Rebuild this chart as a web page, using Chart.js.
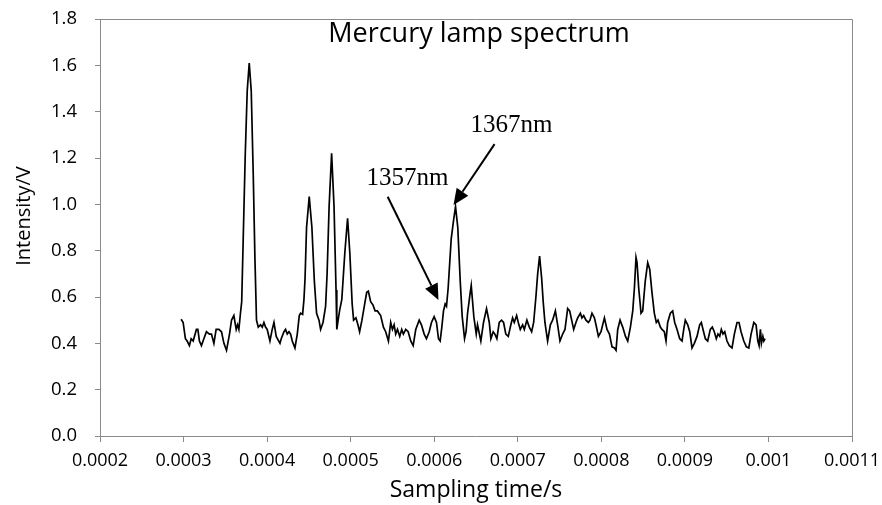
<!DOCTYPE html>
<html>
<head>
<meta charset="utf-8">
<script src="https://cdn.jsdelivr.net/npm/chart.js@4/dist/chart.umd.min.js"></script>
<style>
  html, body { margin: 0; padding: 0; background: #fff; }
  #wrap { width: 882px; height: 505px; }
</style>
</head>
<body>
<div id="wrap"><canvas id="c" width="882" height="505"></canvas></div>
<script>
// ---- data (time in microseconds, intensity in volts) ----
const timeUs = [
297.1,299.5,302.2,304.3,307.0,309.1,311.5,315.4,317.1,319.0,
321.4,324.3,327.4,331.0,333.4,336.3,339.0,342.3,345.4,348.3,
351.4,355.0,357.4,360.2,363.0,364.6,366.2,368.1,369.6,371.4,
373.8,376.2,378.6,381.0,383.4,385.4,387.3,389.4,392.1,394.2,
396.2,398.1,400.1,403.4,406.1,408.2,410.9,415.4,416.9,420.2,
422.1,424.1,426.2,428.1,430.1,433.3,436.1,438.5,440.1,442.5,
444.1,445.4,447.2,450.4,453.6,456.5,459.2,462.1,464.0,466.9,
470.0,471.8,474.2,477.2,480.1,482.5,483.4,484.6,486.7,489.4,
493.0,496.3,499.0,501.8,503.5,506.3,508.7,510.7,513.5,516.8,
519.2,521.2,523.9,526.8,529.2,532.0,535.9,539.2,541.9,545.2,
547.9,550.0,552.0,553.9,556.0,558.7,561.1,563.1,565.9,568.8,
571.9,574.8,577.9,582.0,584.7,588.0,590.7,594.0,596.7,599.9,
602.7,605.1,607.1,609.1,611.1,613.1,614.7,616.7,620.3,623.1,
625.5,628.2,631.1,633.5,636.3,638.1,639.9,643.1,644.3,647.4,
650.3,651.8,655.8,659.0,662.6,665.9,667.8,670.6,672.6,675.0,
677.8,680.6,683.0,685.7,688.6,691.7,693.8,695.8,698.6,700.6,
703.0,705.8,707.8,710.9,713.8,716.6,719.0,721.7,723.8,726.1,
728.6,730.4,732.5,735.7,739.0,741.7,745.0,747.7,750.5,753.7,
756.5,759.7,762.1,764.5,766.9,769.6,771.7,774.9,776.8,778.9,
781.6,784.5,786.4,788.8,791.7,793.6,796.5,799.6,803.7,806.8,
809.7,812.8,815.7,817.6,819.6,822.4,825.6,828.9,831.6,834.8,
837.6,839.6,841.5,842.7,844.7,847.5,849.5,852.6,855.5,857.9,
860.6,863.4,865.8,867.8,870.6,872.6,875.4,877.4,879.4,882.6,
885.4,887.8,890.6,893.8,896.6,898.6,900.5,903.4,905.8,908.5,
911.3,914.5,917.7,919.7,921.7,924.5,927.3,930.4,932.8,935.2,
937.6,939.6,941.7,943.6,945.6,947.7,950.4,953.2,956.4,959.2,
962.4,964.8,967.2,970.5,973.6,976.5,979.2,982.5,985.2,987.3,
988.8,990.4,991.6,993.3,994.5,996.0
];
const intensityV = [
0.504,0.49,0.42,0.41,0.39,0.42,0.41,0.46,0.46,0.41,
0.39,0.42,0.45,0.44,0.44,0.40,0.46,0.46,0.45,0.40,
0.37,0.44,0.50,0.52,0.46,0.48,0.46,0.53,0.58,0.85,
1.21,1.49,1.61,1.49,1.13,0.77,0.50,0.47,0.48,0.47,
0.49,0.47,0.46,0.41,0.46,0.49,0.43,0.40,0.42,0.45,
0.46,0.44,0.45,0.44,0.41,0.38,0.44,0.52,0.53,0.525,
0.59,0.68,0.90,1.033,0.90,0.67,0.53,0.50,0.46,0.49,
0.56,0.70,0.99,1.22,0.99,0.63,0.46,0.49,0.54,0.59,
0.79,0.94,0.79,0.57,0.50,0.51,0.48,0.45,0.50,0.57,
0.62,0.625,0.58,0.565,0.54,0.54,0.52,0.47,0.45,0.41,
0.49,0.46,0.48,0.44,0.46,0.43,0.46,0.44,0.46,0.45,
0.41,0.39,0.46,0.50,0.48,0.44,0.42,0.45,0.49,0.515,
0.49,0.42,0.41,0.47,0.54,0.57,0.56,0.64,0.85,0.93,
0.99,0.90,0.67,0.515,0.42,0.45,0.53,0.62,0.65,0.515,
0.44,0.48,0.41,0.49,0.55,0.49,0.42,0.45,0.44,0.42,
0.49,0.50,0.49,0.44,0.43,0.48,0.51,0.49,0.52,0.49,
0.46,0.48,0.46,0.50,0.47,0.45,0.49,0.60,0.70,0.777,
0.68,0.58,0.49,0.41,0.48,0.50,0.54,0.48,0.41,0.44,
0.46,0.55,0.54,0.50,0.46,0.49,0.51,0.53,0.51,0.52,
0.50,0.49,0.50,0.53,0.51,0.48,0.43,0.45,0.51,0.46,
0.44,0.385,0.38,0.37,0.46,0.50,0.47,0.43,0.41,0.47,
0.54,0.64,0.771,0.75,0.64,0.53,0.54,0.67,0.748,0.72,
0.62,0.53,0.49,0.50,0.47,0.46,0.45,0.41,0.49,0.53,
0.54,0.49,0.46,0.42,0.41,0.46,0.50,0.48,0.45,0.38,
0.40,0.43,0.48,0.49,0.46,0.42,0.41,0.46,0.47,0.45,
0.42,0.44,0.43,0.46,0.44,0.45,0.41,0.39,0.38,0.44,
0.49,0.49,0.45,0.41,0.385,0.38,0.44,0.49,0.48,0.41,
0.39,0.46,0.40,0.43,0.41,0.42
];
const xTickValues = [0.0002,0.0003,0.0004,0.0005,0.0006,0.0007,0.0008,0.0009,0.001,0.0011];
const xTickLabels = ['0.0002','0.0003','0.0004','0.0005','0.0006','0.0007','0.0008','0.0009','0.001','0.0011'];
const yTickValues = [0,0.2,0.4,0.6,0.8,1.0,1.2,1.4,1.6,1.8];
const yTickLabels = ['0.0','0.2','0.4','0.6','0.8','1.0','1.2','1.4','1.6','1.8'];

const chartTitle = 'Mercury lamp spectrum';
const xTitle = 'Sampling time/s';
const yTitle = 'Intensity/V';

// annotation labels with arrows (data coordinates: seconds, volts)
const noteLabels = ['1357nm', '1367nm'];
const noteTextAt = [[0.0005679, 1.083], [0.0006926, 1.312]];
const noteTail  = [[0.0005443, 1.033], [0.0006722, 1.26]];
const noteTip   = [[0.0006051, 0.587], [0.0006231, 0.997]];

// ---- build ----
const points = timeUs.map((t, i) => ({ x: t * 1e-6, y: intensityV[i] }));

const AXIS_GRAY = '#8a8a8a';

const overlay = {
  id: 'overlay',
  afterDraw(chart) {
    const { ctx, chartArea: a, scales: { x, y } } = chart;
    ctx.save();
    // plot area border (top / right)
    ctx.strokeStyle = AXIS_GRAY;
    ctx.lineWidth = 1;
    ctx.beginPath();
    ctx.moveTo(Math.round(a.left) + 0.5, Math.round(a.top) + 0.5);
    ctx.lineTo(Math.round(a.right) + 0.5, Math.round(a.top) + 0.5);
    ctx.lineTo(Math.round(a.right) + 0.5, Math.round(a.bottom) + 0.5);
    ctx.stroke();

    ctx.fillStyle = '#000';
    ctx.textAlign = 'center';
    ctx.textBaseline = 'alphabetic';

    // chart title inside plot area
    ctx.font = "27px 'Open Sans'";
    ctx.fillText(chartTitle, 479, a.top + 23);

    // y-axis title
    ctx.save();
    ctx.font = "20px 'Open Sans'";
    ctx.textBaseline = 'middle';
    ctx.translate(24, 216);
    ctx.rotate(-Math.PI / 2);
    ctx.fillText(yTitle, 0, 0);
    ctx.restore();

    // annotations
    ctx.font = "25px 'Liberation Serif'";
    noteLabels.forEach((lab, i) => {
      const tx = x.getPixelForValue(noteTextAt[i][0]);
      const ty = y.getPixelForValue(noteTextAt[i][1]);
      ctx.fillText(lab, tx, ty);
      const x0 = x.getPixelForValue(noteTail[i][0]);
      const y0 = y.getPixelForValue(noteTail[i][1]);
      const x1 = x.getPixelForValue(noteTip[i][0]);
      const y1 = y.getPixelForValue(noteTip[i][1]);
      const ang = Math.atan2(y1 - y0, x1 - x0);
      const L = 16, W = 7;
      const bx = x1 - L * Math.cos(ang), by = y1 - L * Math.sin(ang);
      ctx.strokeStyle = '#000';
      ctx.lineWidth = 2;
      ctx.beginPath();
      ctx.moveTo(x0, y0);
      ctx.lineTo(bx, by);
      ctx.stroke();
      ctx.beginPath();
      ctx.moveTo(x1, y1);
      ctx.lineTo(bx + W * Math.sin(ang), by - W * Math.cos(ang));
      ctx.lineTo(bx - W * Math.sin(ang), by + W * Math.cos(ang));
      ctx.closePath();
      ctx.fill();
    });
    ctx.restore();
  }
};

Chart.defaults.font.family = "'Open Sans'";
Chart.defaults.color = '#000';

new Chart(document.getElementById('c'), {
  type: 'line',
  data: {
    datasets: [{
      data: points,
      borderColor: '#000',
      borderWidth: 1.7,
      pointRadius: 0,
      tension: 0,
      fill: false
    }]
  },
  options: {
    responsive: false,
    animation: false,
    parsing: false,
    normalized: true,
    layout: { padding: { left: 0, right: 30, top: 19, bottom: 0 } },
    plugins: { legend: { display: false }, tooltip: { enabled: false } },
    scales: {
      x: {
        type: 'linear',
        min: 0.0002, max: 0.0011,
        afterBuildTicks: s => { s.ticks = xTickValues.map(v => ({ value: v })); },
        afterFit: s => { s.height = 69; s.paddingLeft = 0; s.paddingRight = 0; },
        border: { color: AXIS_GRAY, width: 1 },
        grid: { display: true, drawOnChartArea: false, drawTicks: true, tickLength: 6, color: AXIS_GRAY },
        ticks: {
          padding: 8, maxRotation: 0, autoSkip: false,
          font: { size: 18 },
          callback: (v, i) => xTickLabels[i]
        },
        title: { display: true, text: xTitle, font: { size: 23 }, padding: { top: 0, bottom: 1 } }
      },
      y: {
        type: 'linear',
        min: 0, max: 1.8,
        afterBuildTicks: s => { s.ticks = yTickValues.map(v => ({ value: v })); },
        afterFit: s => { s.width = 100; s.paddingTop = 0; s.paddingBottom = 0; },
        border: { color: AXIS_GRAY, width: 1 },
        grid: { display: true, drawOnChartArea: false, drawTicks: true, tickLength: 5, color: AXIS_GRAY },
        ticks: {
          padding: 18, autoSkip: false,
          font: { size: 18.5 },
          callback: (v, i) => yTickLabels[i]
        },
        title: { display: false }
      }
    }
  },
  plugins: [overlay]
});
</script>
</body>
</html>
